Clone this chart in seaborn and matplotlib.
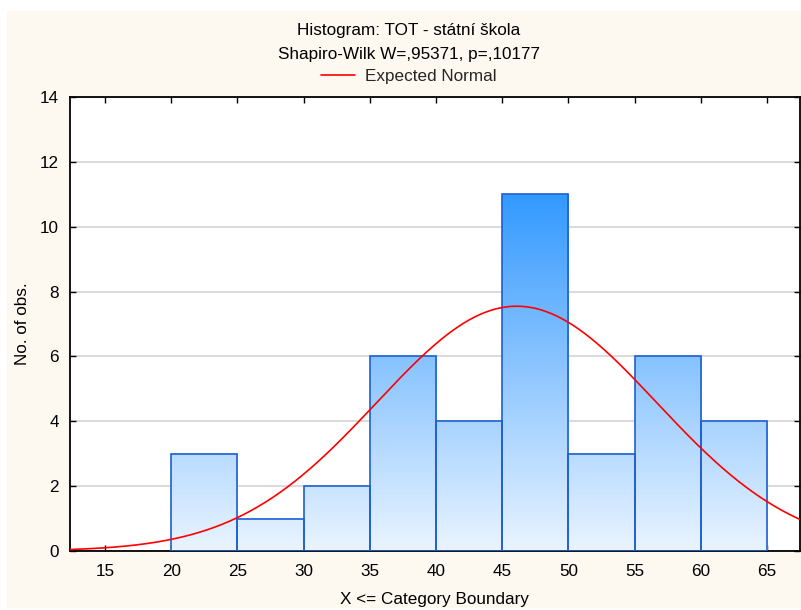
import numpy as np
import pandas as pd
import matplotlib
matplotlib.use("Agg")
import matplotlib.pyplot as plt
from matplotlib.colors import LinearSegmentedColormap
from matplotlib.patches import Rectangle
import seaborn as sns

# ---- data ----
bin_edges = [20, 25, 30, 35, 40, 45, 50, 55, 60, 65]
bin_counts = [3, 1, 2, 6, 4, 11, 3, 6, 4]
normal_mean = 46.1
normal_sd = 10.57
x_ticks = [15, 20, 25, 30, 35, 40, 45, 50, 55, 60, 65]
y_ticks = [0, 2, 4, 6, 8, 10, 12, 14]
title_lines = ["Histogram: TOT - státní škola", "Shapiro-Wilk W=,95371, p=,10177"]
legend_label = "Expected Normal"
x_label = "X <= Category Boundary"
y_label = "No. of obs."

sns.set_theme(style="white")
plt.rcParams['font.family'] = ['Liberation Sans', 'DejaVu Sans']
FS = 12.3

W, H = 801, 610
fig = plt.figure(figsize=(W / 100, H / 100), dpi=100, facecolor="white")
# cream panel
fig.patches.append(Rectangle((7 / W, 2 / H), 1 - 7 / W, (H - 13) / H,
                             transform=fig.transFigure, facecolor="#FDF9F0",
                             edgecolor="none", zorder=-10))

ax = fig.add_axes([70 / W, 1 - 551 / H, (800 - 70) / W, (551 - 97) / H])
ax.set_facecolor("white")

centers = [(bin_edges[i] + bin_edges[i + 1]) / 2 for i in range(len(bin_counts))]
df = pd.DataFrame({"x": centers, "w": bin_counts})
sns.histplot(data=df, x="x", weights="w", bins=bin_edges, ax=ax,
             stat="count", fill=True, facecolor="none",
             edgecolor="#1E5FD2", linewidth=1.2, zorder=3)

cmap = LinearSegmentedColormap.from_list("grad", ["#EAF4FF", "#3399FF"])
grad = np.linspace(0, 1, 256).reshape(-1, 1)
for p in ax.patches:
    x0 = p.get_x()
    w = p.get_width()
    h = p.get_height()
    if h <= 0:
        continue
    vals = grad * h
    ax.imshow(vals, extent=[x0, x0 + w, 0, h], origin="lower", aspect="auto",
              cmap=cmap, vmin=0, vmax=11, zorder=2, interpolation="bilinear")
    p.set_facecolor("none")

# expected normal curve
n_obs = sum(bin_counts)
bw = bin_edges[1] - bin_edges[0]
xs = np.linspace(12.36, 67.5, 400)
ys = n_obs * bw * np.exp(-0.5 * ((xs - normal_mean) / normal_sd) ** 2) / (normal_sd * np.sqrt(2 * np.pi))
sns.lineplot(x=xs, y=ys, ax=ax, color="#FF0000", linewidth=1.2, zorder=4,
             label=legend_label, legend=False)

ax.set_xlim(12.36, 67.5)
ax.set_ylim(0, 14)
ax.set_xticks(x_ticks)
ax.set_yticks(y_ticks)
ax.set_axisbelow(True)
ax.yaxis.grid(True, color="#D8D8D8", linewidth=1.3)
ax.xaxis.grid(False)
for s in ax.spines.values():
    s.set_visible(True)
    s.set_color("black")
    s.set_linewidth(1.3)
ax.tick_params(axis="both", which="both", direction="in", length=4, width=1,
               color="black", labelsize=FS, labelcolor="black",
               top=True, right=True, bottom=True, left=True,
               labeltop=False, labelright=False)
ax.tick_params(axis="x", pad=9)
ax.tick_params(axis="y", pad=8)
ax.set_xlabel(x_label, fontsize=FS, color="black", labelpad=10)
ax.set_ylabel(y_label, fontsize=FS, color="black")
ax.yaxis.set_label_coords((30 - 70) / 730, 0.5)

tx = 409 / W
fig.text(tx, 1 - 30 / H, title_lines[0], ha="center", va="center", fontsize=FS, color="black")
fig.text(tx, 1 - 54 / H, title_lines[1], ha="center", va="center", fontsize=FS, color="black")
handles = [plt.Line2D([0], [0], color="#FF0000", linewidth=1.2)]
fig.legend(handles, [legend_label], loc="center", bbox_to_anchor=(tx, 1 - 76 / H),
           frameon=False, fontsize=FS, handlelength=2.0, handletextpad=0.6)

fig.savefig("out.png", dpi=100, facecolor=fig.get_facecolor())
